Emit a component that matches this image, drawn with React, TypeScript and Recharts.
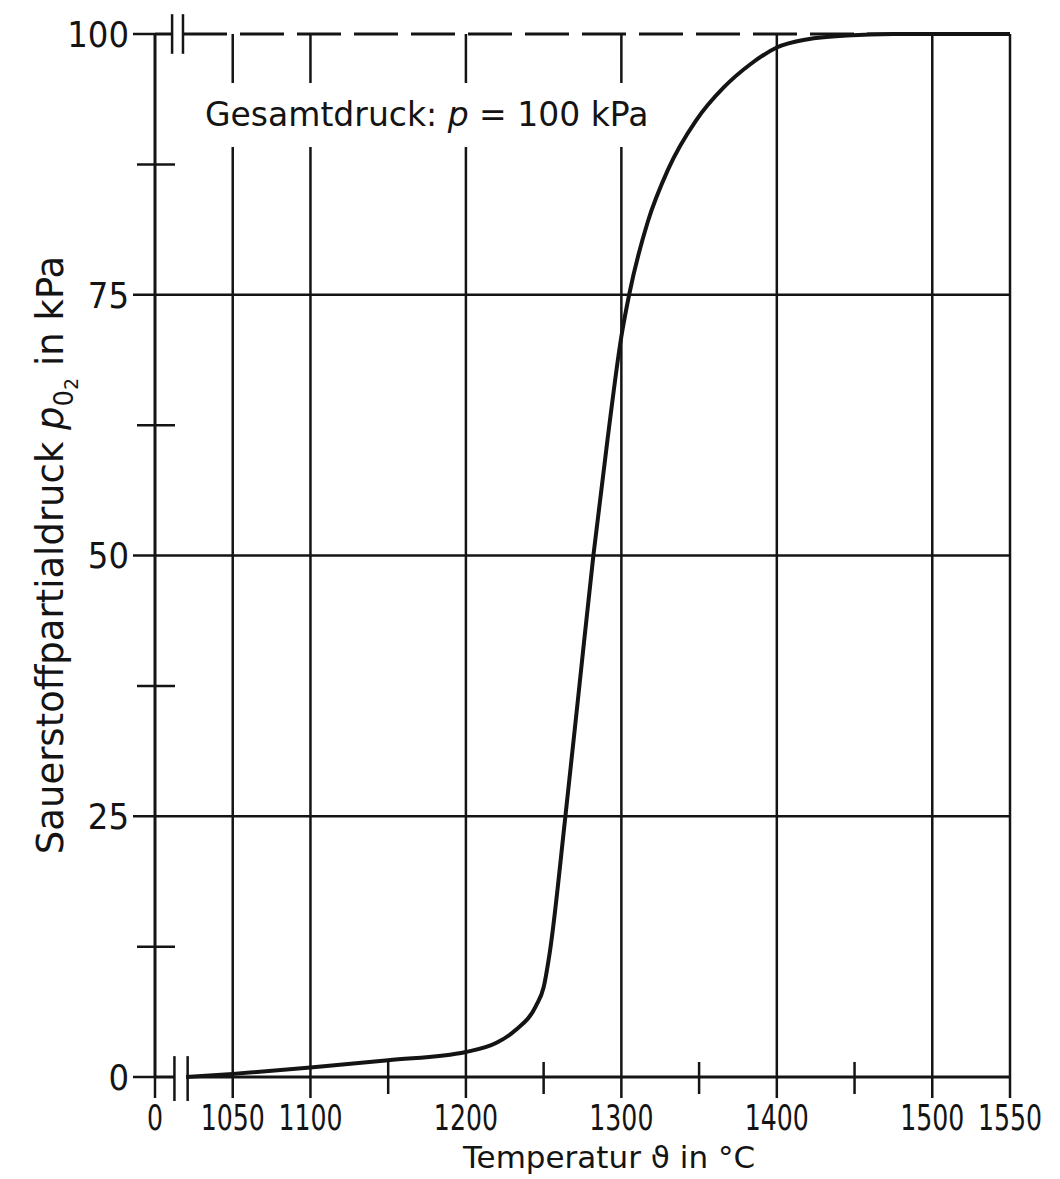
import React from 'react';
import { LineChart, Line, XAxis, YAxis, ReferenceLine } from 'recharts';

// Temperatur in °C (x-axis is broken: the "0" tick sits where 1000 would be)
const TEMP = [1020, 1050, 1100, 1150, 1200, 1220, 1232, 1245, 1250, 1254, 1264, 1273, 1282, 1291, 1300, 1305, 1317, 1330, 1348, 1366, 1383, 1400, 1420, 1445, 1475, 1550];
// Sauerstoffpartialdruck in kPa
const PRESSURE = [0, 0.3, 0.9, 1.6, 2.4, 3.3, 4.5, 6.8, 8.6, 12, 25, 37.5, 50, 61, 71, 75, 82, 87, 91.7, 94.9, 97.1, 98.7, 99.5, 99.85, 100, 100];

const X_TICKS = [1000, 1050, 1100, 1150, 1200, 1250, 1300, 1350, 1400, 1450, 1500, 1550];
const X_MINOR = [1150, 1250, 1350, 1450];
const X_LABELS: Record<number, string> = {
    1000: '0', 1050: '1050', 1100: '1100', 1200: '1200', 1300: '1300', 1400: '1400', 1500: '1500', 1550: '1550',
};
const X_GRID = [1050, 1100, 1200, 1300, 1400, 1500, 1550];

const Y_TICKS = [0, 12.5, 25, 37.5, 50, 62.5, 75, 87.5, 100];
const Y_MINOR = [12.5, 37.5, 62.5, 87.5];
const Y_GRID = [25, 50, 75];

const INK = '#141414';
const TICK_FONT = "'DejaVu Sans Condensed', 'DejaVu Sans', sans-serif";
const TEXT_FONT = "'DejaVu Sans', sans-serif";

const data = TEMP.map((t, i) => ({ t, p: PRESSURE[i] }));

const XTick = (props: any) => {
    const { x, y, payload } = props;
    const v = payload.value;
    const minor = X_MINOR.includes(v);
    return (
        <g>
            <line x1={x} x2={x} y1={minor ? y - 15 : y} y2={y + (minor ? 17 : 21)} stroke={INK} strokeWidth={2.5} />
            {!minor && (
                <text
                    transform={`translate(${x},${y + 53}) scale(0.8,1)`}
                    textAnchor="middle"
                    fontFamily={TICK_FONT}
                    fontSize={35}
                    fill={INK}
                >
                    {X_LABELS[v]}
                </text>
            )}
        </g>
    );
};

const YTick = (props: any) => {
    const { x, y, payload } = props;
    const v = payload.value;
    const minor = Y_MINOR.includes(v);
    return (
        <g>
            <line x1={minor ? x - 18 : x - 22} x2={minor ? x + 20 : x} y1={y} y2={y} stroke={INK} strokeWidth={2.5} />
            {!minor && (
                <text x={x - 26} y={y} dy="0.36em" textAnchor="end" fontFamily={TICK_FONT} fontSize={36} fill={INK}>
                    {v}
                </text>
            )}
        </g>
    );
};

export default function App() {
    return (
        <div style={{ position: 'absolute', left: 0, top: 0, width: 1060, height: 1179, background: '#fff' }}>
            <LineChart width={1060} height={1179} data={data} margin={{ top: 34, right: 50, bottom: 42, left: 95 }}>
                <XAxis
                    dataKey="t"
                    type="number"
                    domain={[1000, 1550]}
                    ticks={X_TICKS}
                    interval={0}
                    axisLine={false}
                    tickLine={false}
                    tickSize={0}
                    tickMargin={0}
                    height={60}
                    tick={<XTick />}
                />
                <YAxis
                    type="number"
                    domain={[0, 100]}
                    ticks={Y_TICKS}
                    interval={0}
                    axisLine={false}
                    tickLine={false}
                    tickSize={0}
                    tickMargin={0}
                    width={60}
                    tick={<YTick />}
                />
                {X_GRID.map((v) => (
                    <ReferenceLine key={'gx' + v} x={v} stroke={INK} strokeWidth={2.5} />
                ))}
                {Y_GRID.map((v) => (
                    <ReferenceLine key={'gy' + v} y={v} stroke={INK} strokeWidth={2.5} />
                ))}
                {/* axes with break marks */}
                <ReferenceLine segment={[{ x: 1000, y: 0 }, { x: 1000, y: 100 }]} stroke={INK} strokeWidth={3} ifOverflow="visible" />
                <ReferenceLine segment={[{ x: 1000, y: 0 }, { x: 1012.5, y: 0 }]} stroke={INK} strokeWidth={3} ifOverflow="visible" />
                <ReferenceLine segment={[{ x: 1021, y: 0 }, { x: 1550, y: 0 }]} stroke={INK} strokeWidth={3} ifOverflow="visible" />
                <ReferenceLine segment={[{ x: 1012.5, y: -2.3 }, { x: 1012.5, y: 2 }]} stroke={INK} strokeWidth={2.5} ifOverflow="visible" />
                <ReferenceLine segment={[{ x: 1021, y: -2.3 }, { x: 1021, y: 2 }]} stroke={INK} strokeWidth={2.5} ifOverflow="visible" />
                <ReferenceLine segment={[{ x: 1000, y: 100 }, { x: 1011, y: 100 }]} stroke={INK} strokeWidth={3} ifOverflow="visible" />
                <ReferenceLine segment={[{ x: 1018, y: 100 }, { x: 1550, y: 100 }]} stroke={INK} strokeWidth={3} strokeDasharray="44 13" ifOverflow="visible" />
                <ReferenceLine segment={[{ x: 1011, y: 98.1 }, { x: 1011, y: 101.9 }]} stroke={INK} strokeWidth={2.5} ifOverflow="visible" />
                <ReferenceLine segment={[{ x: 1018, y: 98.1 }, { x: 1018, y: 101.9 }]} stroke={INK} strokeWidth={2.5} ifOverflow="visible" />
                <Line
                    type="monotone"
                    dataKey="p"
                    stroke={INK}
                    strokeWidth={4}
                    dot={false}
                    isAnimationActive={false}
                />
            </LineChart>
            <div
                style={{
                    position: 'absolute',
                    left: 196,
                    top: 83,
                    height: 64,
                    lineHeight: '64px',
                    padding: '0 9px',
                    background: '#fff',
                    fontFamily: TEXT_FONT,
                    fontSize: 33,
                    color: INK,
                    whiteSpace: 'nowrap',
                }}
            >
                Gesamtdruck: <i>p</i> = 100 kPa
            </div>
            <svg width={1060} height={1179} style={{ position: 'absolute', left: 0, top: 0, pointerEvents: 'none' }}>
                <text x={609} y={1168} textAnchor="middle" fontFamily={TEXT_FONT} fontSize={31} fill={INK}>
                    Temperatur ϑ in °C
                </text>
                <text transform="translate(63,555) rotate(-90)" textAnchor="middle" fontFamily={TEXT_FONT} fontSize={37} fill={INK}>
                    Sauerstoffpartialdruck <tspan fontStyle="italic">p</tspan>
                    <tspan dy={10} fontSize={26}>0</tspan>
                    <tspan dy={5} fontSize={19}>2</tspan>
                    <tspan dy={-15}> in kPa</tspan>
                </text>
            </svg>
        </div>
    );
}
